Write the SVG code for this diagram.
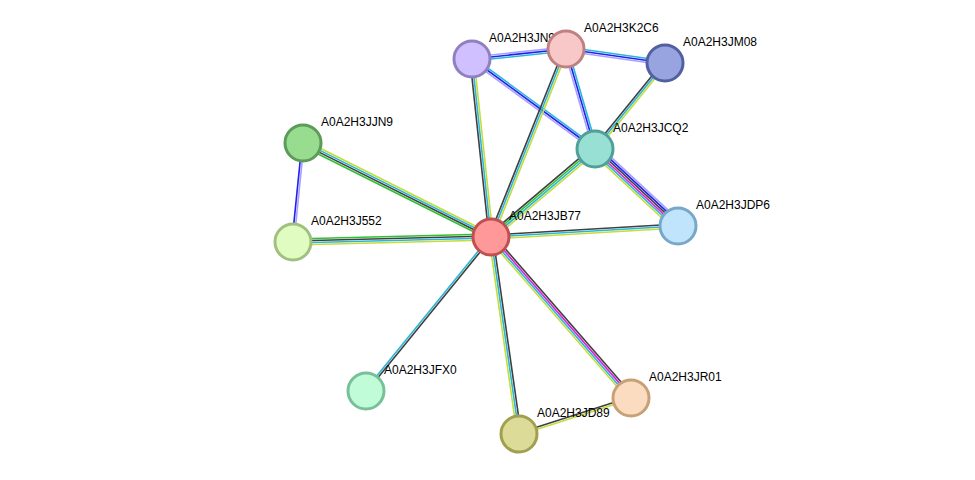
<svg xmlns="http://www.w3.org/2000/svg" width="975" height="480" viewBox="0 0 975 480">
<style>
line{stroke-width:1.6;fill:none}
.k{stroke:#404040}.c{stroke:#2ab6d6}.y{stroke:#c4dc3c}.b{stroke:#2020f0}.h{stroke:#a8a0ff}.m{stroke:#e020d8}.g{stroke:#30c030}
circle{stroke-width:3}
text{font-family:"Liberation Sans",Arial,sans-serif;font-size:12px;fill:#000}
</style>
<rect width="975" height="480" fill="#fff"/>
<g id="edges">
<g transform="translate(472,59) rotate(-6.07)"><line x1="0" y1="-2" x2="94.5" y2="-2" class="h"/><line x1="0" y1="0" x2="94.5" y2="0" class="b"/><line x1="0" y1="2" x2="94.5" y2="2" class="c"/></g>
<g transform="translate(566,49) rotate(8.05)"><line x1="0" y1="-2" x2="100" y2="-2" class="c"/><line x1="0" y1="0" x2="100" y2="0" class="b"/><line x1="0" y1="2" x2="100" y2="2" class="h"/></g>
<g transform="translate(472,59) rotate(36.2)"><line x1="0" y1="-2" x2="152.4" y2="-2" class="c"/><line x1="0" y1="0" x2="152.4" y2="0" class="b"/><line x1="0" y1="2" x2="152.4" y2="2" class="h"/></g>
<g transform="translate(566,49) rotate(73.8)"><line x1="0" y1="-2" x2="104.1" y2="-2" class="c"/><line x1="0" y1="0" x2="104.1" y2="0" class="b"/><line x1="0" y1="2" x2="104.1" y2="2" class="h"/></g>
<g transform="translate(665,63) rotate(129.1)"><line x1="0" y1="-2" x2="110.9" y2="-2" class="y"/><line x1="0" y1="0" x2="110.9" y2="0" class="c"/><line x1="0" y1="2" x2="110.9" y2="2" class="k"/></g>
<g transform="translate(566,49) rotate(111.75)"><line x1="0" y1="-2" x2="202.4" y2="-2" class="y"/><line x1="0" y1="0" x2="202.4" y2="0" class="c"/><line x1="0" y1="2" x2="202.4" y2="2" class="k"/></g>
<g transform="translate(472,59) rotate(83.9)"><line x1="0" y1="-2" x2="179" y2="-2" class="y"/><line x1="0" y1="0" x2="179" y2="0" class="c"/><line x1="0" y1="2" x2="179" y2="2" class="k"/></g>
<g transform="translate(595,149) rotate(139.8)"><line x1="0" y1="-3" x2="136.2" y2="-3" class="y"/><line x1="0" y1="-1" x2="136.2" y2="-1" class="c"/><line x1="0" y1="1" x2="136.2" y2="1" class="g"/><line x1="0" y1="3" x2="136.2" y2="3" class="k"/></g>
<g transform="translate(595,149) rotate(42.9)"><line x1="0" y1="-5" x2="113.2" y2="-5" class="h"/><line x1="0" y1="-3" x2="113.2" y2="-3" class="b"/><line x1="0" y1="-1" x2="113.2" y2="-1" class="k"/><line x1="0" y1="1" x2="113.2" y2="1" class="m"/><line x1="0" y1="3" x2="113.2" y2="3" class="c"/><line x1="0" y1="5" x2="113.2" y2="5" class="y"/></g>
<g transform="translate(491,237) rotate(-3.37)"><line x1="0" y1="-2" x2="187.3" y2="-2" class="k"/><line x1="0" y1="0" x2="187.3" y2="0" class="c"/><line x1="0" y1="2" x2="187.3" y2="2" class="y"/></g>
<g transform="translate(303,143) rotate(95.8)"><line x1="0" y1="-1" x2="99.5" y2="-1" class="h"/><line x1="0" y1="1" x2="99.5" y2="1" class="b"/></g>
<g transform="translate(303,143) rotate(26.6)"><line x1="0" y1="-3" x2="210.2" y2="-3" class="y"/><line x1="0" y1="-1" x2="210.2" y2="-1" class="c"/><line x1="0" y1="1" x2="210.2" y2="1" class="k"/><line x1="0" y1="3" x2="210.2" y2="3" class="g"/></g>
<g transform="translate(293,242) rotate(-1.45)"><line x1="0" y1="-3" x2="198.1" y2="-3" class="g"/><line x1="0" y1="-1" x2="198.1" y2="-1" class="k"/><line x1="0" y1="1" x2="198.1" y2="1" class="c"/><line x1="0" y1="3" x2="198.1" y2="3" class="y"/></g>
<g transform="translate(491,237) rotate(129.1)"><line x1="0" y1="-1" x2="198.3" y2="-1" class="k"/><line x1="0" y1="1" x2="198.3" y2="1" class="c"/></g>
<g transform="translate(491,237) rotate(81.9)"><line x1="0" y1="-2" x2="199" y2="-2" class="k"/><line x1="0" y1="0" x2="199" y2="0" class="c"/><line x1="0" y1="2" x2="199" y2="2" class="y"/></g>
<g transform="translate(491,237) rotate(49.0)"><line x1="0" y1="-3" x2="213.4" y2="-3" class="k"/><line x1="0" y1="-1" x2="213.4" y2="-1" class="m"/><line x1="0" y1="1" x2="213.4" y2="1" class="c"/><line x1="0" y1="3" x2="213.4" y2="3" class="y"/></g>
<g transform="translate(519,434) rotate(-17.8)"><line x1="0" y1="-1" x2="117.6" y2="-1" class="k"/><line x1="0" y1="1" x2="117.6" y2="1" class="y"/></g>
</g>
<g id="A0A2H3JN9"><circle cx="472" cy="59" r="18" fill="#d0c0ff" stroke="#9080c0"/><text x="489" y="42">A0A2H3JN9</text></g>
<g id="A0A2H3K2C6"><circle cx="566" cy="49" r="18" fill="#f8c8c8" stroke="#c08080"/><text x="584" y="32">A0A2H3K2C6</text></g>
<g id="A0A2H3JM08"><circle cx="665" cy="63" r="18" fill="#98a4e0" stroke="#5060a0"/><text x="683" y="46">A0A2H3JM08</text></g>
<g id="A0A2H3JCQ2"><circle cx="595" cy="149" r="18" fill="#98e0d4" stroke="#50a098"/><text x="613" y="132">A0A2H3JCQ2</text></g>
<g id="A0A2H3JDP6"><circle cx="678" cy="226" r="18" fill="#c0e4fc" stroke="#78a8c8"/><text x="696" y="209">A0A2H3JDP6</text></g>
<g id="A0A2H3JJN9"><circle cx="303" cy="143" r="18" fill="#98dc90" stroke="#5c9c58"/><text x="321" y="126">A0A2H3JJN9</text></g>
<g id="A0A2H3J552"><circle cx="293" cy="242" r="18" fill="#e0fcc0" stroke="#a0c080"/><text x="311" y="225">A0A2H3J552</text></g>
<g id="A0A2H3JB77"><circle cx="491" cy="237" r="18" fill="#ff9898" stroke="#c05050"/><text x="509" y="220">A0A2H3JB77</text></g>
<g id="A0A2H3JFX0"><circle cx="366" cy="391" r="18" fill="#c0fcd8" stroke="#78c098"/><text x="384" y="374">A0A2H3JFX0</text></g>
<g id="A0A2H3JD89"><circle cx="519" cy="434" r="18" fill="#dcdc98" stroke="#a0a050"/><text x="537" y="417">A0A2H3JD89</text></g>
<g id="A0A2H3JR01"><circle cx="631" cy="398" r="18" fill="#fcdcc0" stroke="#c8a078"/><text x="649" y="381">A0A2H3JR01</text></g>
</svg>
